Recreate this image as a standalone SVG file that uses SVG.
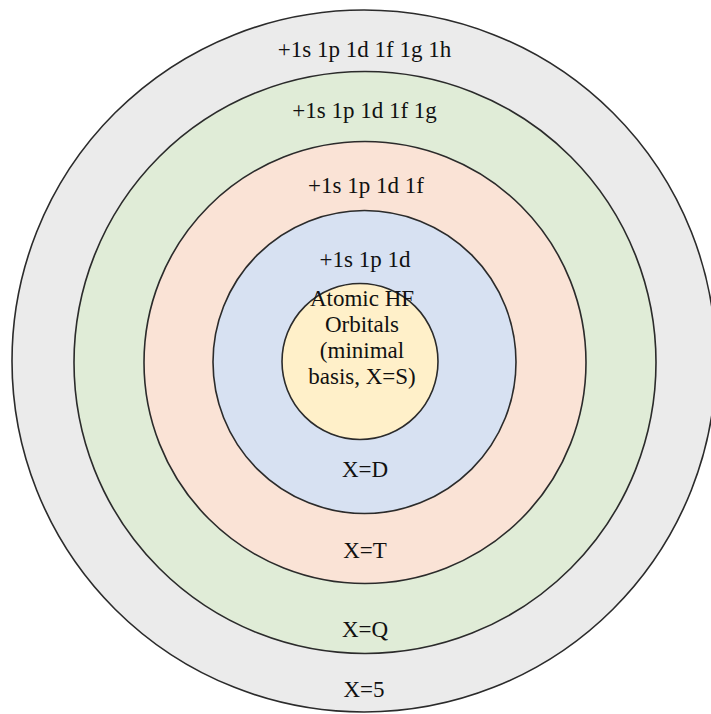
<svg xmlns="http://www.w3.org/2000/svg" width="711" height="714" viewBox="0 0 711 714">
<style>
.ring{stroke:#2b2b2b;stroke-width:1.6}
.lbl{font-family:"Liberation Serif","Times New Roman",serif;font-size:23px;fill:#111;text-anchor:middle}
</style>
<rect width="711" height="714" fill="#ffffff"/>
<g id="ring-5">
<ellipse class="ring" cx="364" cy="361" rx="352" ry="351" fill="#EBEBEB"/>
<text class="lbl" x="364.5" y="57">+1s 1p 1d 1f 1g 1h</text>
<text class="lbl" x="364" y="697">X=5</text>
</g>
<g id="ring-Q">
<circle class="ring" cx="365" cy="362.5" r="291" fill="#E0ECD7"/>
<text class="lbl" x="364.5" y="118">+1s 1p 1d 1f 1g</text>
<text class="lbl" x="365" y="637">X=Q</text>
</g>
<g id="ring-T">
<circle class="ring" cx="365" cy="362.5" r="221" fill="#FAE3D6"/>
<text class="lbl" x="366" y="193">+1s 1p 1d 1f</text>
<text class="lbl" x="365" y="558">X=T</text>
</g>
<g id="ring-D">
<circle class="ring" cx="364.5" cy="362" r="151.5" fill="#D7E1F2"/>
<text class="lbl" x="365" y="267">+1s 1p 1d</text>
<text class="lbl" x="365" y="477">X=D</text>
</g>
<g id="core-S">
<circle class="ring" cx="360" cy="361.5" r="78" fill="#FFF0C9"/>
<text class="lbl" x="362" y="306">Atomic HF</text>
<text class="lbl" x="362" y="332">Orbitals</text>
<text class="lbl" x="362" y="358">(minimal</text>
<text class="lbl" x="362" y="384">basis, X=S)</text>
</g>
<g id="connectors"/>
</svg>
